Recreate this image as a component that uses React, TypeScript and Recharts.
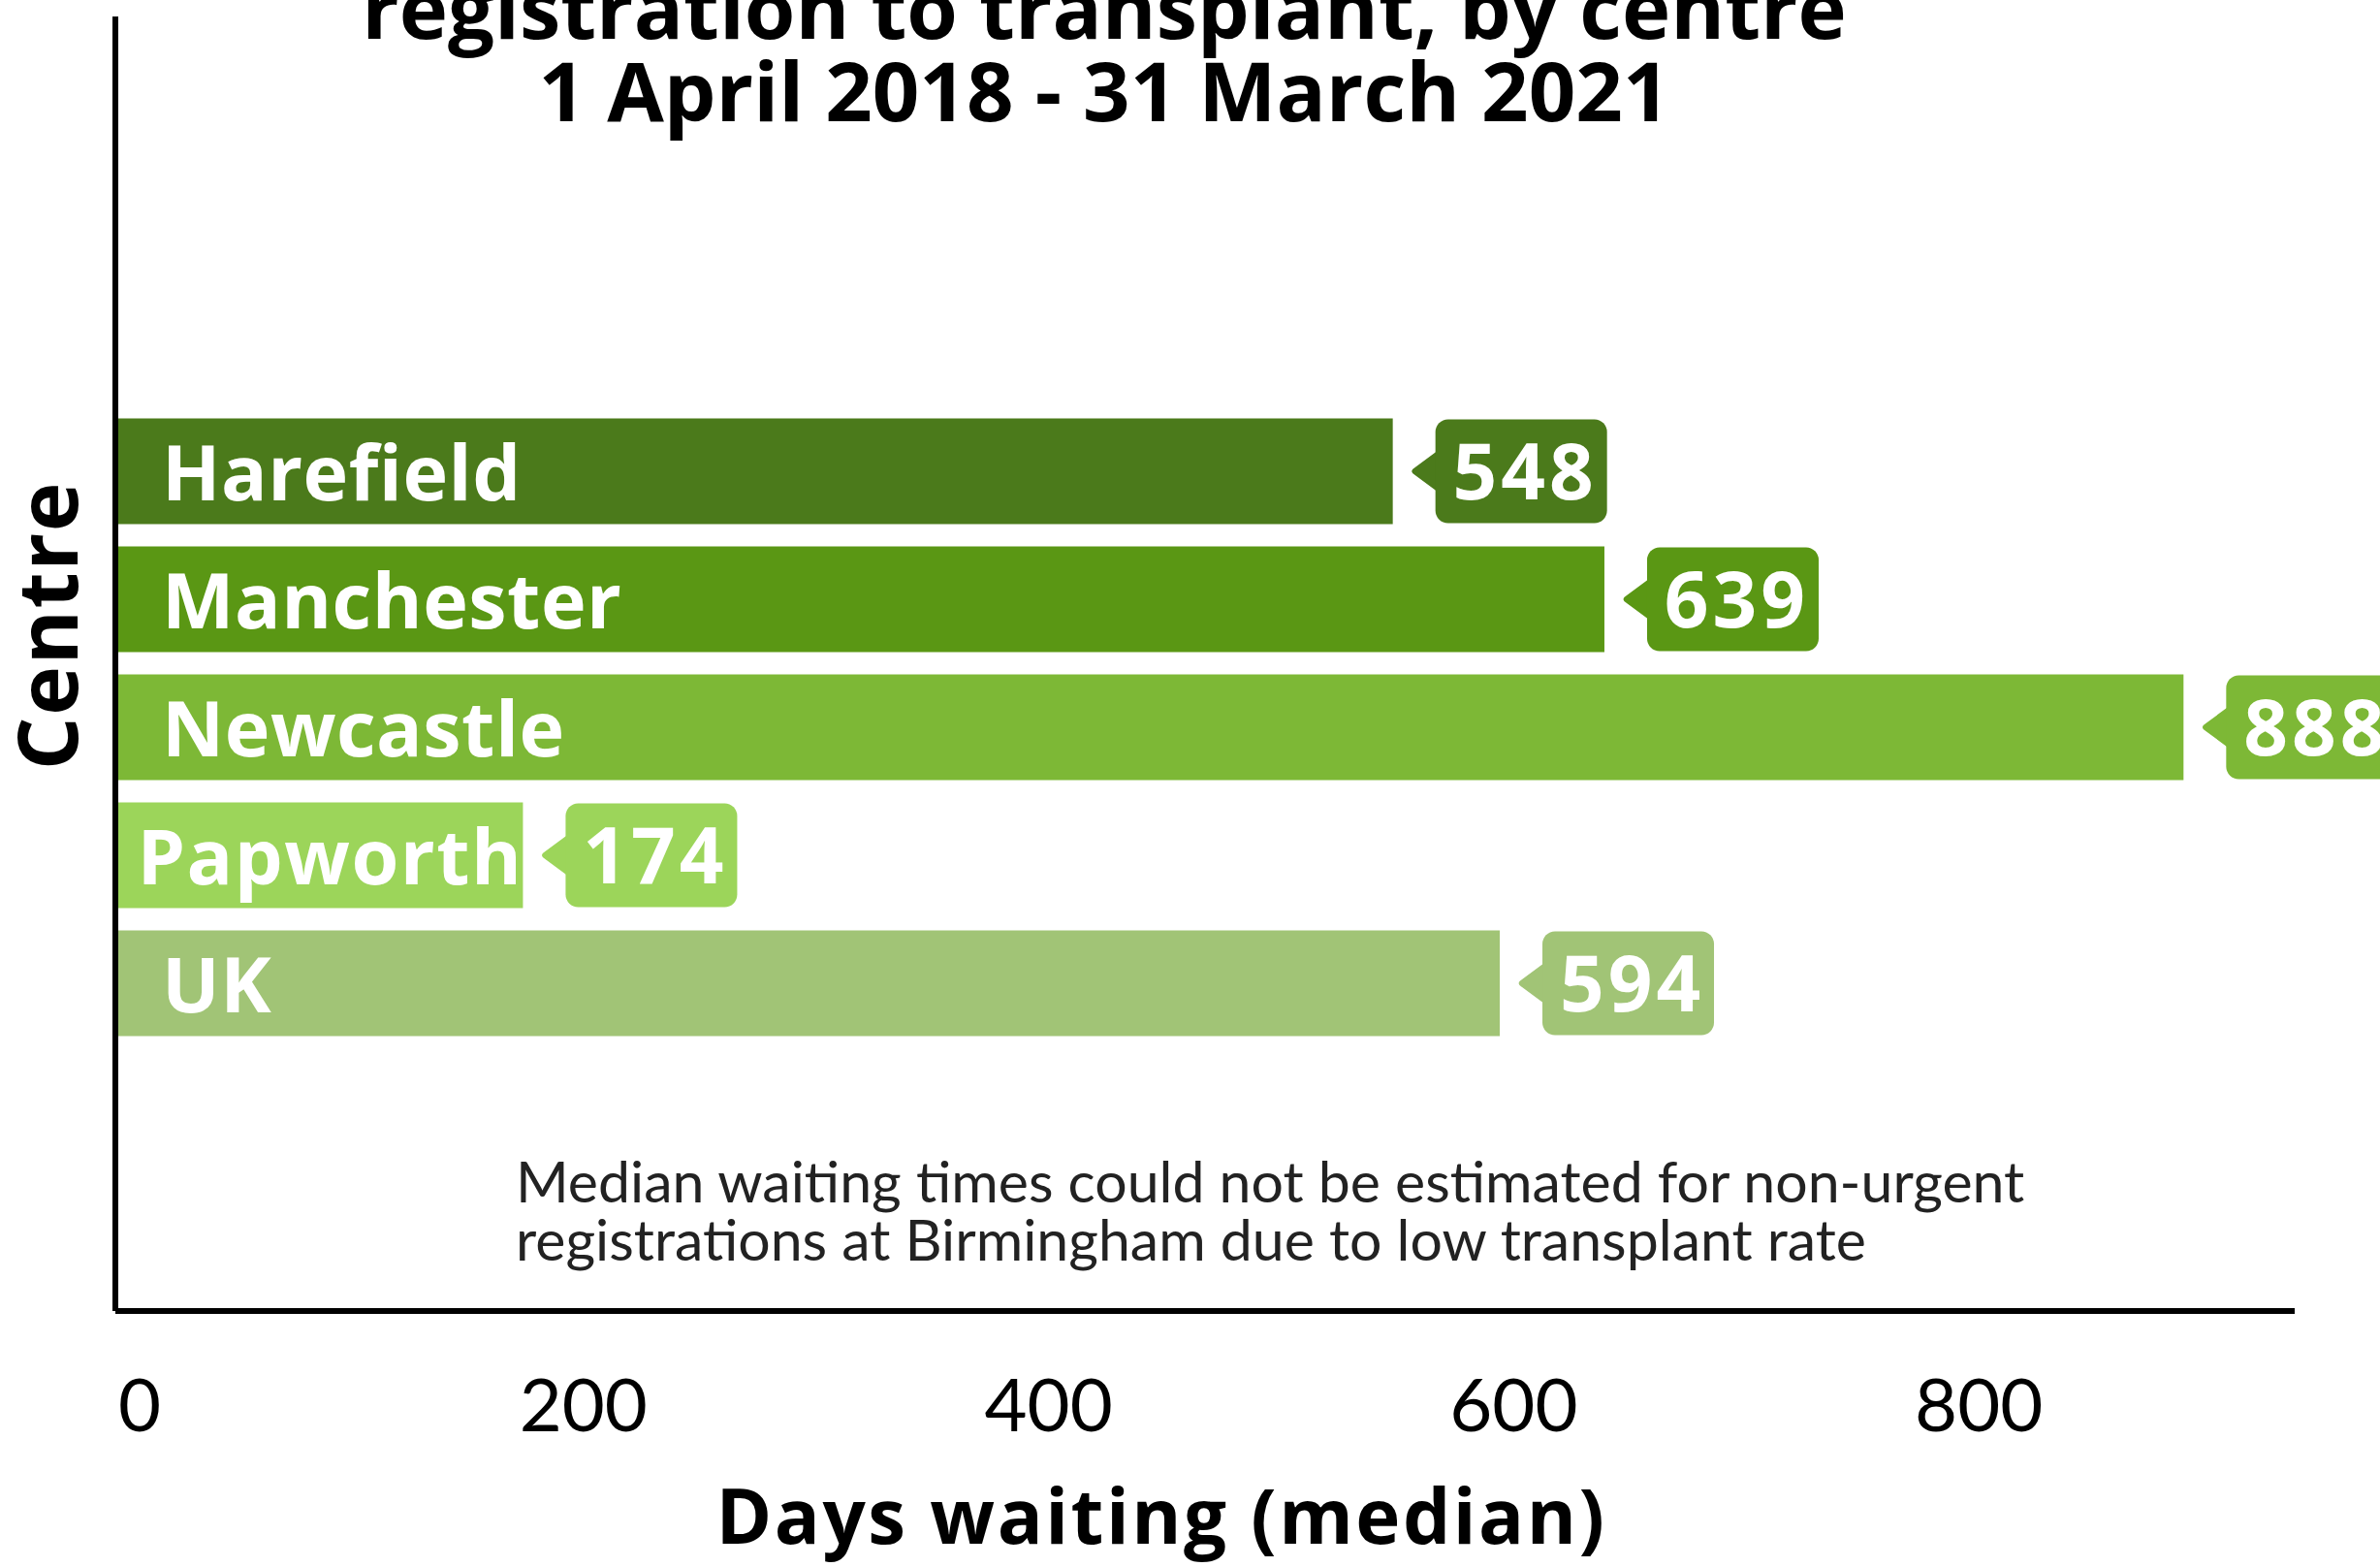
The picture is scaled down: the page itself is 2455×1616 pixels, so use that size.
import React from 'react';
import { BarChart, Bar, XAxis, YAxis, Cell, LabelList, Customized } from 'recharts';

const centres = ['Harefield', 'Manchester', 'Newcastle', 'Papworth', 'UK'];
const medianDays = [548, 639, 888, 174, 594];
const barColors = ['#4B7A1B', '#5A9714', '#7DB836', '#9CD55A', '#A1C476'];
const xTicks = [0, 200, 400, 600, 800];
const titleLines = ['registration to transplant, by centre', '1 April 2018 - 31 March 2021'];
const footnoteLines = [
  'Median waiting times could not be estimated for non-urgent',
  'registrations at Birmingham due to low transplant rate',
];
const xTitle = 'Days waiting (median)';
const yTitle = 'Centre';

const data = centres.map((c, i) => ({ centre: c, days: medianDays[i] }));

const BOLD = "'Open Sans', 'DejaVu Sans', sans-serif";
const REG = "Lato, 'Open Sans', sans-serif";

const XTick = (props: any) => {
  const { x, y, payload } = props;
  return (
    <text
      x={x}
      y={y}
      dy={124}
      textAnchor={payload.value === 0 ? 'start' : 'middle'}
      fontFamily={REG}
      fontSize={76}
      fill="#000"
    >
      {payload.value}
    </text>
  );
};

const NameLabel = (props: any) => {
  const { x, y, width, height, value } = props;
  const small = width < 470;
  return (
    <text
      x={small ? x + width : x + 45}
      y={y + height / 2}
      dy={30}
      textAnchor={small ? 'end' : 'start'}
      fill="#fff"
      fontFamily={BOLD}
      fontWeight={700}
      fontSize={79}
      letterSpacing={small ? 1.5 : 0.5}
    >
      {value}
    </text>
  );
};

const Bubble = (props: any) => {
  const { x, y, width, height, value, index } = props;
  const color = barColors[index];
  const cy = y + height / 2;
  const end = x + width;
  const left = end + 44;
  const w = 177;
  const h = 107;
  const tip = end + 16;
  const pointer = `M${left + 2},${cy - 21} L${tip + 7},${cy - 4} Q${tip},${cy} ${tip + 7},${cy + 4} L${left + 2},${cy + 21} Z`;
  return (
    <g>
      <path d={pointer} fill={color} />
      <rect x={left} y={cy - h / 2} width={w} height={h} rx={13} ry={13} fill={color} />
      <text
        x={left + w / 2 + 4}
        y={cy}
        dy={29}
        textAnchor="middle"
        fill="#fff"
        fontFamily={BOLD}
        fontWeight={700}
        fontSize={80}
        letterSpacing={4}
      >
        {value}
      </text>
    </g>
  );
};

const Titles = () => (
  <g>
    <text x={1139} y={40} textAnchor="middle" fontFamily={BOLD} fontWeight={700} fontSize={85} fill="#000">
      {titleLines[0]}
    </text>
    <text x={1139} y={125} textAnchor="middle" fontFamily={BOLD} fontWeight={700} fontSize={85} fill="#000">
      {titleLines[1]}
    </text>
    <text x={532} y={1240} fontFamily={REG} fontSize={59} fill="#222">
      {footnoteLines[0]}
    </text>
    <text x={532} y={1300} fontFamily={REG} fontSize={59} fill="#222">
      {footnoteLines[1]}
    </text>
    <text
      x={1198}
      y={1592}
      textAnchor="middle"
      fontFamily={BOLD}
      fontWeight={700}
      fontSize={78}
      letterSpacing={2.5}
      fill="#000"
    >
      {xTitle}
    </text>
    <text
      x={80}
      y={645}
      textAnchor="middle"
      transform="rotate(-90 80 645)"
      fontFamily={BOLD}
      fontWeight={700}
      fontSize={86}
      letterSpacing={1.5}
      fill="#000"
    >
      {yTitle}
    </text>
  </g>
);

export default function App() {
  return (
    <div style={{ position: 'fixed', left: 0, top: 0, width: 2455, height: 1616, background: '#fff' }}>
      <BarChart
        width={2455}
        height={1616}
        data={data}
        layout="vertical"
        margin={{ top: 17, right: 88, bottom: 0, left: 109 }}
      >
        <XAxis
          type="number"
          dataKey="days"
          domain={[-1.25, 935.8]}
          allowDataOverflow
          ticks={xTicks}
          interval={0}
          axisLine={{ stroke: '#000', strokeWidth: 6 }}
          tickLine={false}
          tickSize={0}
          tickMargin={0}
          height={264}
          tick={<XTick />}
        />
        <YAxis
          type="category"
          dataKey="centre"
          width={10}
          axisLine={{ stroke: '#000', strokeWidth: 6 }}
          tick={false}
          tickLine={false}
          padding={{ top: 402.5, bottom: 272.5 }}
        />
        <Bar dataKey="days" barSize={109} isAnimationActive={false}>
          {data.map((d, i) => (
            <Cell key={d.centre} fill={barColors[i]} />
          ))}
          <LabelList dataKey="centre" content={<NameLabel />} />
          <LabelList dataKey="days" content={<Bubble />} />
        </Bar>
        <Customized component={Titles} />
      </BarChart>
    </div>
  );
}
